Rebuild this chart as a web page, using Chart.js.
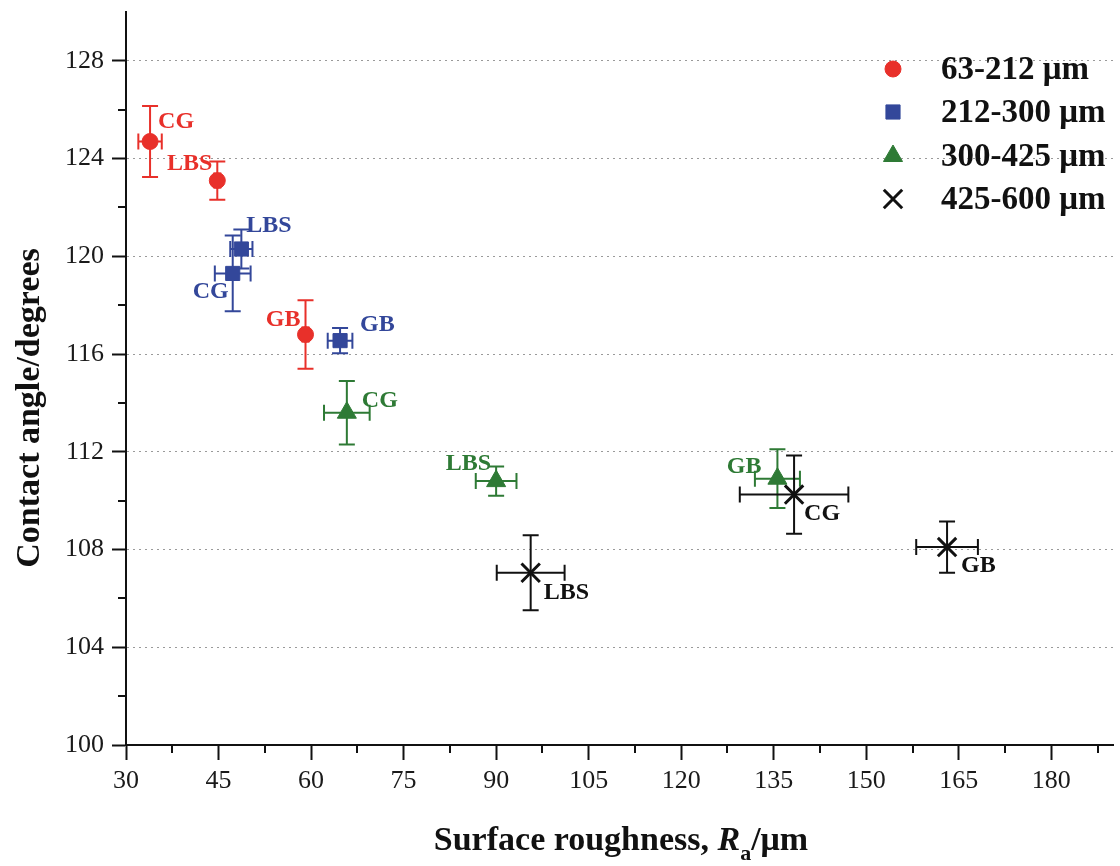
<!DOCTYPE html>
<html>
<head>
<meta charset="utf-8">
<script src="https://cdn.jsdelivr.net/npm/chart.js@4/dist/chart.umd.min.js"></script>
<style>
  html, body { margin: 0; padding: 0; background: #fff; }
  #wrap { width: 1120px; height: 866px; }
</style>
</head>
<body>
<div id="wrap"><canvas id="chart" width="1120" height="866"></canvas></div>
<script>
// data
const sizeRanges = ['63-212 μm', '212-300 μm', '300-425 μm', '425-600 μm'];
const grits = ['CG', 'LBS', 'GB'];

const ra63 = [33.9, 44.8, 59.1];
const ca63 = [124.7, 123.1, 116.8];
const raErr63 = [1.9, 0.5, 0.5];
const caErr63 = [1.45, 0.78, 1.4];

const ra212 = [47.3, 48.7, 64.7];
const ca212 = [119.3, 120.3, 116.55];
const raErr212 = [2.9, 1.8, 2.0];
const caErr212 = [1.55, 0.8, 0.52];

const ra300 = [65.8, 90.0, 135.6];
const ca300 = [113.6, 110.8, 110.9];
const raErr300 = [3.7, 3.3, 3.65];
const caErr300 = [1.3, 0.6, 1.2];

const ra425 = [138.3, 95.6, 163.1];
const ca425 = [110.25, 107.05, 108.1];
const raErr425 = [8.8, 5.5, 5.0];
const caErr425 = [1.6, 1.53, 1.05];

const xTicks = { min: 30, max: 190, step: 15 };
const yTicks = { min: 100, max: 130, step: 4 };

const colors = ['#e8302a', '#33479a', '#2e7a35', '#111111'];
const serif = "'Liberation Serif', 'Times New Roman', serif";

// where each grit label sits relative to its point: [dx, dy, align]
const labelPlace = [
    [[8, -20, 'left'], [-5, -17, 'right'], [-5, -15, 'right']],
    [[-4, 18, 'right'], [5, -23, 'left'], [20, -16, 'left']],
    [[15, -12, 'left'], [-5, -17, 'right'], [-16, -12, 'right']],
    [[10, 19, 'left'], [13, 20, 'left'], [14, 19, 'left']]
];

function points(ra, ca, raErr, caErr) {
    return ra.map((x, i) => ({ x: x, y: ca[i], xErr: raErr[i], yErr: caErr[i], name: grits[i] }));
}

const series = [
    points(ra63, ca63, raErr63, caErr63),
    points(ra212, ca212, raErr212, caErr212),
    points(ra300, ca300, raErr300, caErr300),
    points(ra425, ca425, raErr425, caErr425)
];
const styles = ['circle', 'rect', 'triangle', 'crossRot'];
const radii = [8, 10, 11, 13];

// error bars + grit labels
const errorBars = {
    id: 'errorBars',
    beforeDatasetsDraw(chart) {
        const ctx = chart.ctx, xs = chart.scales.x, ys = chart.scales.y;
        const cap = 8;
        chart.data.datasets.forEach((ds, i) => {
            ctx.save();
            ctx.strokeStyle = colors[i];
            ctx.lineWidth = 2;
            ds.data.forEach(p => {
                const px = xs.getPixelForValue(p.x), py = ys.getPixelForValue(p.y);
                const x0 = xs.getPixelForValue(p.x - p.xErr), x1 = xs.getPixelForValue(p.x + p.xErr);
                const y0 = ys.getPixelForValue(p.y - p.yErr), y1 = ys.getPixelForValue(p.y + p.yErr);
                ctx.beginPath();
                ctx.moveTo(x0, py); ctx.lineTo(x1, py);
                ctx.moveTo(x0, py - cap); ctx.lineTo(x0, py + cap);
                ctx.moveTo(x1, py - cap); ctx.lineTo(x1, py + cap);
                ctx.moveTo(px, y0); ctx.lineTo(px, y1);
                ctx.moveTo(px - cap, y0); ctx.lineTo(px + cap, y0);
                ctx.moveTo(px - cap, y1); ctx.lineTo(px + cap, y1);
                ctx.stroke();
            });
            ctx.restore();
        });
    },
    afterDatasetsDraw(chart) {
        const ctx = chart.ctx, xs = chart.scales.x, ys = chart.scales.y;
        ctx.save();
        ctx.font = 'bold 24px ' + serif;
        ctx.textBaseline = 'middle';
        chart.data.datasets.forEach((ds, i) => {
            ctx.fillStyle = colors[i];
            ds.data.forEach((p, j) => {
                const pl = labelPlace[i][j];
                ctx.textAlign = pl[2];
                ctx.fillText(p.name, xs.getPixelForValue(p.x) + pl[0], ys.getPixelForValue(p.y) + pl[1]);
            });
        });
        ctx.restore();
    }
};

// minor ticks, axis titles, legend
const extras = {
    id: 'extras',
    afterDraw(chart) {
        const ctx = chart.ctx, xs = chart.scales.x, ys = chart.scales.y, area = chart.chartArea;
        ctx.save();
        ctx.strokeStyle = '#111';
        ctx.lineWidth = 2;
        ctx.beginPath();
        for (let v = yTicks.min + yTicks.step / 2; v < yTicks.max; v += yTicks.step) {
            const y = Math.round(ys.getPixelForValue(v));
            ctx.moveTo(area.left - 8, y); ctx.lineTo(area.left, y);
        }
        for (let v = xTicks.min + xTicks.step / 2; v < xTicks.max; v += xTicks.step) {
            const x = Math.round(xs.getPixelForValue(v));
            ctx.moveTo(x, area.bottom); ctx.lineTo(x, area.bottom + 8);
        }
        ctx.stroke();

        // y title
        ctx.fillStyle = '#111';
        ctx.font = 'bold 34px ' + serif;
        ctx.textAlign = 'center';
        ctx.textBaseline = 'middle';
        ctx.save();
        ctx.translate(30, 408);
        ctx.rotate(-Math.PI / 2);
        ctx.fillText('Contact angle/degrees', 0, 0);
        ctx.restore();

        // x title with italic R and subscript a
        const parts = [
            { t: 'Surface roughness, ', f: 'bold 34px ' + serif, dy: 0 },
            { t: 'R', f: 'italic bold 34px ' + serif, dy: 0 },
            { t: 'a', f: 'bold 22px ' + serif, dy: 10 },
            { t: '/μm', f: 'bold 34px ' + serif, dy: 0 }
        ];
        let total = 0;
        parts.forEach(p => { ctx.font = p.f; p.w = ctx.measureText(p.t).width; total += p.w; });
        let x = 621 - total / 2;
        ctx.textAlign = 'left';
        ctx.textBaseline = 'alphabetic';
        parts.forEach(p => {
            ctx.font = p.f;
            ctx.fillText(p.t, x, 850 + p.dy);
            x += p.w;
        });

        // legend
        const rows = [69, 112, 156, 199];
        chart.data.datasets.forEach((ds, i) => {
            ctx.fillStyle = colors[i];
            ctx.strokeStyle = colors[i];
            ctx.lineWidth = i === 3 ? 3 : 1;
            Chart.helpers.drawPoint(ctx, { pointStyle: styles[i], radius: radii[i], rotation: 0, borderWidth: ctx.lineWidth }, 893, rows[i]);
            ctx.fillStyle = '#111';
            ctx.font = 'bold 33px ' + serif;
            ctx.textBaseline = 'middle';
            ctx.fillText(sizeRanges[i], 941, rows[i] + 1);
        });
        ctx.restore();
    }
};

new Chart(document.getElementById('chart').getContext('2d'), {
    type: 'scatter',
    data: {
        datasets: series.map((pts, i) => ({
            label: sizeRanges[i],
            data: pts,
            pointStyle: styles[i],
            pointRadius: radii[i],
            pointHoverRadius: radii[i],
            backgroundColor: colors[i],
            borderColor: colors[i],
            pointBorderWidth: i === 3 ? 3 : 1
        }))
    },
    options: {
        responsive: false,
        animation: false,
        layout: { autoPadding: false, padding: { top: 12, right: 7, left: 0, bottom: 0 } },
        plugins: { legend: { display: false }, tooltip: { enabled: false } },
        scales: {
            x: {
                type: 'linear',
                min: xTicks.min,
                max: xTicks.max,
                afterFit: s => { s.height = 121; s.paddingLeft = 0; s.paddingRight = 0; },
                ticks: {
                    stepSize: xTicks.step,
                    includeBounds: false,
                    padding: 6,
                    color: '#1a1a1a',
                    font: { family: serif, size: 26 }
                },
                grid: { drawOnChartArea: false, tickLength: 15, tickWidth: 2, tickColor: '#111' },
                border: { display: true, color: '#111', width: 2 }
            },
            y: {
                type: 'linear',
                min: yTicks.min,
                max: yTicks.max,
                afterFit: s => { s.width = 126; s.paddingTop = 0; s.paddingBottom = 0; },
                ticks: {
                    stepSize: yTicks.step,
                    includeBounds: false,
                    padding: 8,
                    color: '#1a1a1a',
                    font: { family: serif, size: 26 }
                },
                grid: {
                    drawOnChartArea: true,
                    color: ctx => (ctx.tick && ctx.tick.value === yTicks.min) ? 'rgba(0,0,0,0)' : '#9a9a9a',
                    lineWidth: 1,
                    tickLength: 14,
                    tickWidth: 2,
                    tickColor: '#111'
                },
                border: { display: true, color: '#111', width: 2, dash: [2, 4] }
            }
        }
    },
    plugins: [errorBars, extras]
});
</script>
</body>
</html>
